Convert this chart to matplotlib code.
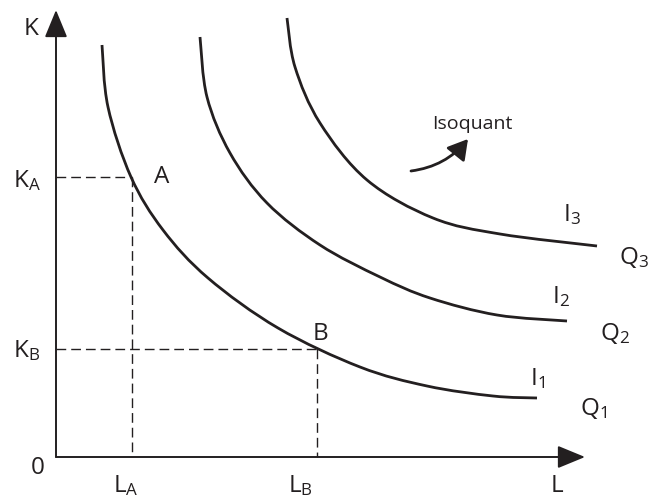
import matplotlib
matplotlib.use("Agg")
import matplotlib.pyplot as plt
from matplotlib.path import Path
from matplotlib.patches import PathPatch

plt.rcParams['font.family'] = ['Open Sans', 'DejaVu Sans']
plt.rcParams['mathtext.fontset'] = 'custom'
plt.rcParams['mathtext.rm'] = 'Open Sans'
plt.rcParams['mathtext.it'] = 'Open Sans'

# isoquants (L, K units from origin)
i1_L = [46, 52, 75, 107, 152, 222, 304, 371, 437, 481]
i1_K = [412, 350, 280, 227, 179, 129, 90, 71, 61, 59]
i2_L = [144, 151, 174, 211, 264, 324, 374, 441, 511]
i2_K = [420, 360, 304, 254, 212, 180, 159, 142, 136]
i3_L = [231, 239, 264, 311, 377, 444, 541]
i3_K = [439, 390, 334, 277, 239, 223, 211]

point_A = (76, 280)
point_B = (261, 108)
axis_top = 447
axis_right = 529

INK = '#231f20'


def smooth_path(xs, ys):
    """ catmull-rom through the read points, as cubic bezier pieces """
    pts = list(zip(xs, ys))
    n = len(pts)
    verts = [pts[0]]
    codes = [Path.MOVETO]
    for i in range(n - 1):
        p0 = pts[max(i - 1, 0)]
        p1 = pts[i]
        p2 = pts[i + 1]
        p3 = pts[min(i + 2, n - 1)]
        c1 = (p1[0] + (p2[0] - p0[0]) / 6, p1[1] + (p2[1] - p0[1]) / 6)
        c2 = (p2[0] - (p3[0] - p1[0]) / 6, p2[1] - (p3[1] - p1[1]) / 6)
        verts += [c1, c2, p2]
        codes += [Path.CURVE4] * 3
    return Path(verts, codes)


fig = plt.figure(figsize=(6.58, 4.97), dpi=100)
ax = fig.add_axes([0, 0, 1, 1])
ax.set_xlim(-56, 602)
ax.set_ylim(-40, 457)
ax.axis('off')

for xs, ys in [(i1_L, i1_K), (i2_L, i2_K), (i3_L, i3_K)]:
    ax.add_patch(PathPatch(smooth_path(xs, ys), fill=False, lw=2.0,
                           edgecolor=INK, capstyle='butt'))

# dashed guides
for (px, py) in [point_A, point_B]:
    ax.plot([0, px], [py, py], color=INK, lw=1.0, dashes=(7, 3.6))
    ax.plot([px, px], [py, 0], color=INK, lw=1.0, dashes=(7, 3.6))

# axes with arrows
arrow = dict(arrowstyle='-|>,head_length=0.85,head_width=0.35', color=INK,
             lw=1.4, shrinkA=0, shrinkB=0, mutation_scale=20)
ax.annotate('', xy=(0, axis_top), xytext=(0, 0), arrowprops=arrow)
ax.annotate('', xy=(axis_right, 0), xytext=(0, 0), arrowprops=arrow)

fs = 17.5
ax.text(-25, 428, 'K', fontsize=fs, ha='center', va='center', color=INK)
ax.text(-43, 270, r'K$_\mathrm{A}$', fontsize=fs, ha='left', va='baseline', color=INK)
ax.text(-43, 100, r'K$_\mathrm{B}$', fontsize=fs, ha='left', va='baseline', color=INK)
ax.text(-18, -17, '0', fontsize=fs, ha='center', va='baseline', color=INK)
ax.text(70, -35, r'L$_\mathrm{A}$', fontsize=fs, ha='center', va='baseline', color=INK)
ax.text(244, -35, r'L$_\mathrm{B}$', fontsize=fs, ha='center', va='baseline', color=INK)
ax.text(501, -35, 'L', fontsize=fs, ha='center', va='baseline', color=INK)
ax.text(98, 274, 'A', fontsize=fs, ha='left', va='baseline', color=INK)
ax.text(257, 117, 'B', fontsize=fs, ha='left', va='baseline', color=INK)

ax.text(507, 236, r'I$_3$', fontsize=fs, ha='left', va='baseline', color=INK)
ax.text(563, 193, r'Q$_3$', fontsize=fs, ha='left', va='baseline', color=INK)
ax.text(496, 154, r'I$_2$', fontsize=fs, ha='left', va='baseline', color=INK)
ax.text(544, 117, r'Q$_2$', fontsize=fs, ha='left', va='baseline', color=INK)
ax.text(474, 72, r'I$_1$', fontsize=fs, ha='left', va='baseline', color=INK)
ax.text(524, 42, r'Q$_1$', fontsize=fs, ha='left', va='baseline', color=INK)

ax.text(376, 328, 'Isoquant', fontsize=14, ha='left', va='baseline', color=INK)
ax.annotate('', xy=(412, 318), xytext=(355, 286),
            arrowprops=dict(arrowstyle='-|>,head_length=0.6,head_width=0.35',
                            color=INK, lw=2.0, shrinkA=0, shrinkB=0,
                            mutation_scale=20, connectionstyle='arc3,rad=0.2'))

fig.savefig('out.png', dpi=100)
